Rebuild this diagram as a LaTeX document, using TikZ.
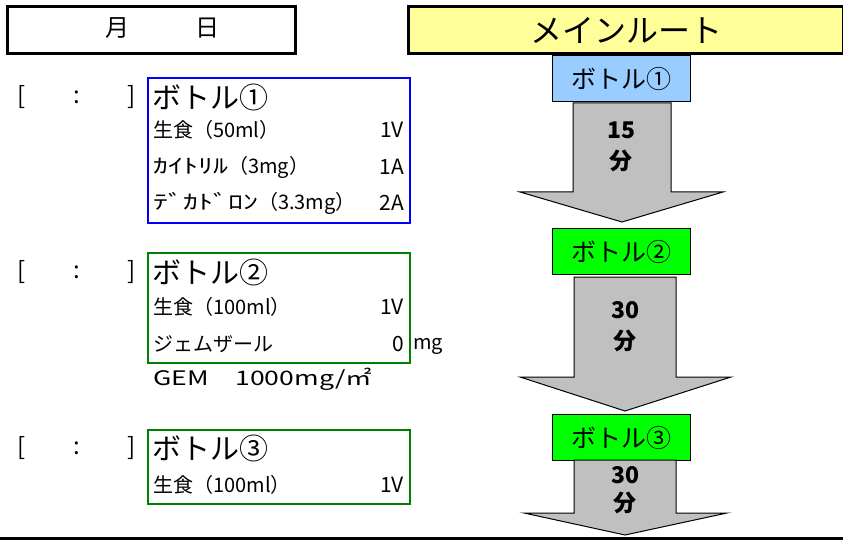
\documentclass[tikz,border=0pt]{standalone}
\usepackage{fontspec}
\setmainfont{Noto Sans CJK JP}
\definecolor{yel}{HTML}{FFFF99}
\definecolor{lblue}{HTML}{99CCFF}
\definecolor{lgreen}{HTML}{00FF00}
\definecolor{dgreen}{HTML}{008000}
\definecolor{agray}{HTML}{C0C0C0}
\newcommand{\hw}[1]{\scalebox{1.5}[1]{#1}}
\begin{document}
\begin{tikzpicture}[x=1pt,y=-1pt,
  hdrbox/.style={draw=black, line width=3, anchor=north west, inner sep=0},
  listbox/.style={line width=2, anchor=north west, inner sep=0},
  routebox/.style={draw=black, line width=1.2, anchor=north west, inner sep=0, minimum width=138, minimum height=46, font=\fontsize{25}{27}\selectfont},
  title/.style={anchor=west, inner sep=0, font=\fontsize{29}{31}\selectfont},
  item/.style={anchor=west, inner sep=0, font=\fontsize{20}{22}\selectfont},
  val/.style={anchor=east, inner sep=0, font=\fontsize{21}{23}\selectfont},
  brk/.style={inner sep=0, font=\fontsize{24}{26}\selectfont},
  flow/.style={draw=black, line width=1, fill=agray},
  flowtxt/.style={inner sep=0, font=\bfseries\fontsize{23}{25}\selectfont}
]
\useasboundingbox (0,0) rectangle (843,540);

% date box
\node[hdrbox, minimum width=288, minimum height=47] (date) at (6,5) {};
\node[inner sep=0, font=\fontsize{24}{26}\selectfont] (mon) at (117,28) {月};
\node[inner sep=0, font=\fontsize{24}{26}\selectfont] (day) at (207,28) {日};

% main route header
\node[hdrbox, fill=yel, minimum width=435, minimum height=47, font=\fontsize{32}{34}\selectfont] (main) at (407,5) {メインルート};

% bottle 1 list
\node[listbox, draw=blue, minimum width=262, minimum height=145] (l1) at (147,77) {};
\node[brk] (o1) at (22,97) {[};
\node[brk] (c1) at (77,97) {:};
\node[brk] (e1) at (132,97) {]};
\node[title] (t1) at (152,97) {ボトル①};
\node[item] (i11) at (153,130) {生食（50ml）};
\node[val] (v11) at (404,130) {1V};
\node[item] (i12) at (153,167) {\hw{ｶｲﾄﾘﾙ}（3mg）};
\node[val] (v12) at (404,167) {1A};
\node[item] (i13) at (153,203) {\hw{ﾃﾞｶﾄﾞﾛﾝ}（3.3mg）};
\node[val] (v13) at (404,203) {2A};

% bottle 2 list
\node[listbox, draw=dgreen, minimum width=262, minimum height=110] (l2) at (147,252) {};
\node[brk] (o2) at (22,272) {[};
\node[brk] (c2) at (77,272) {:};
\node[brk] (e2) at (132,272) {]};
\node[title] (t2) at (152,272) {ボトル②};
\node[item] (i21) at (153,307) {生食（100ml）};
\node[val] (v21) at (404,307) {1V};
\node[item] (i22) at (153,344) {ジェムザール};
\node[val] (v22) at (404,344) {0};
\node[item] (u22) at (413,346) {mg};
\node[item] (gem) at (153,379) {\scalebox{1.33}[1]{GEM\hspace{1em}1000mg/㎡}};

% bottle 3 list
\node[listbox, draw=dgreen, minimum width=262, minimum height=74] (l3) at (147,429) {};
\node[brk] (o3) at (22,448) {[};
\node[brk] (c3) at (77,448) {:};
\node[brk] (e3) at (132,448) {]};
\node[title] (t3) at (152,448) {ボトル③};
\node[item] (i31) at (153,485) {生食（100ml）};
\node[val] (v31) at (404,485) {1V};

% main route bottles
\node[routebox, fill=lblue] (r1) at (552,55) {ボトル①};
\node[routebox, fill=lgreen] (r2) at (552,228) {ボトル②};
\node[routebox, fill=lgreen] (r3) at (552,414) {ボトル③};

% flow arrows
\draw[flow] (573,103) -- (671,103) -- (671,192) -- (723,192) -- (622,222) -- (520,192) -- (573,192) -- cycle;
\node[flowtxt] (m1) at (621,130) {15};
\node[flowtxt] (f1) at (621,161) {分};

\draw[flow] (574,277) -- (676,277) -- (676,377) -- (731,377) -- (625,411) -- (520,377) -- (574,377) -- cycle;
\node[flowtxt] (m2) at (625,310) {30};
\node[flowtxt] (f2) at (625,341) {分};

\draw[flow] (574,460) -- (676,460) -- (676,513) -- (727,513) -- (625,535) -- (524,513) -- (574,513) -- cycle;
\node[flowtxt] (m3) at (625,475) {30};
\node[flowtxt] (f3) at (625,503) {分};

% bottom rule
\coordinate (bl) at (0,538.5);
\coordinate (br) at (843,538.5);
\draw[line width=3] (bl) -- (br);
\end{tikzpicture}
\end{document}
